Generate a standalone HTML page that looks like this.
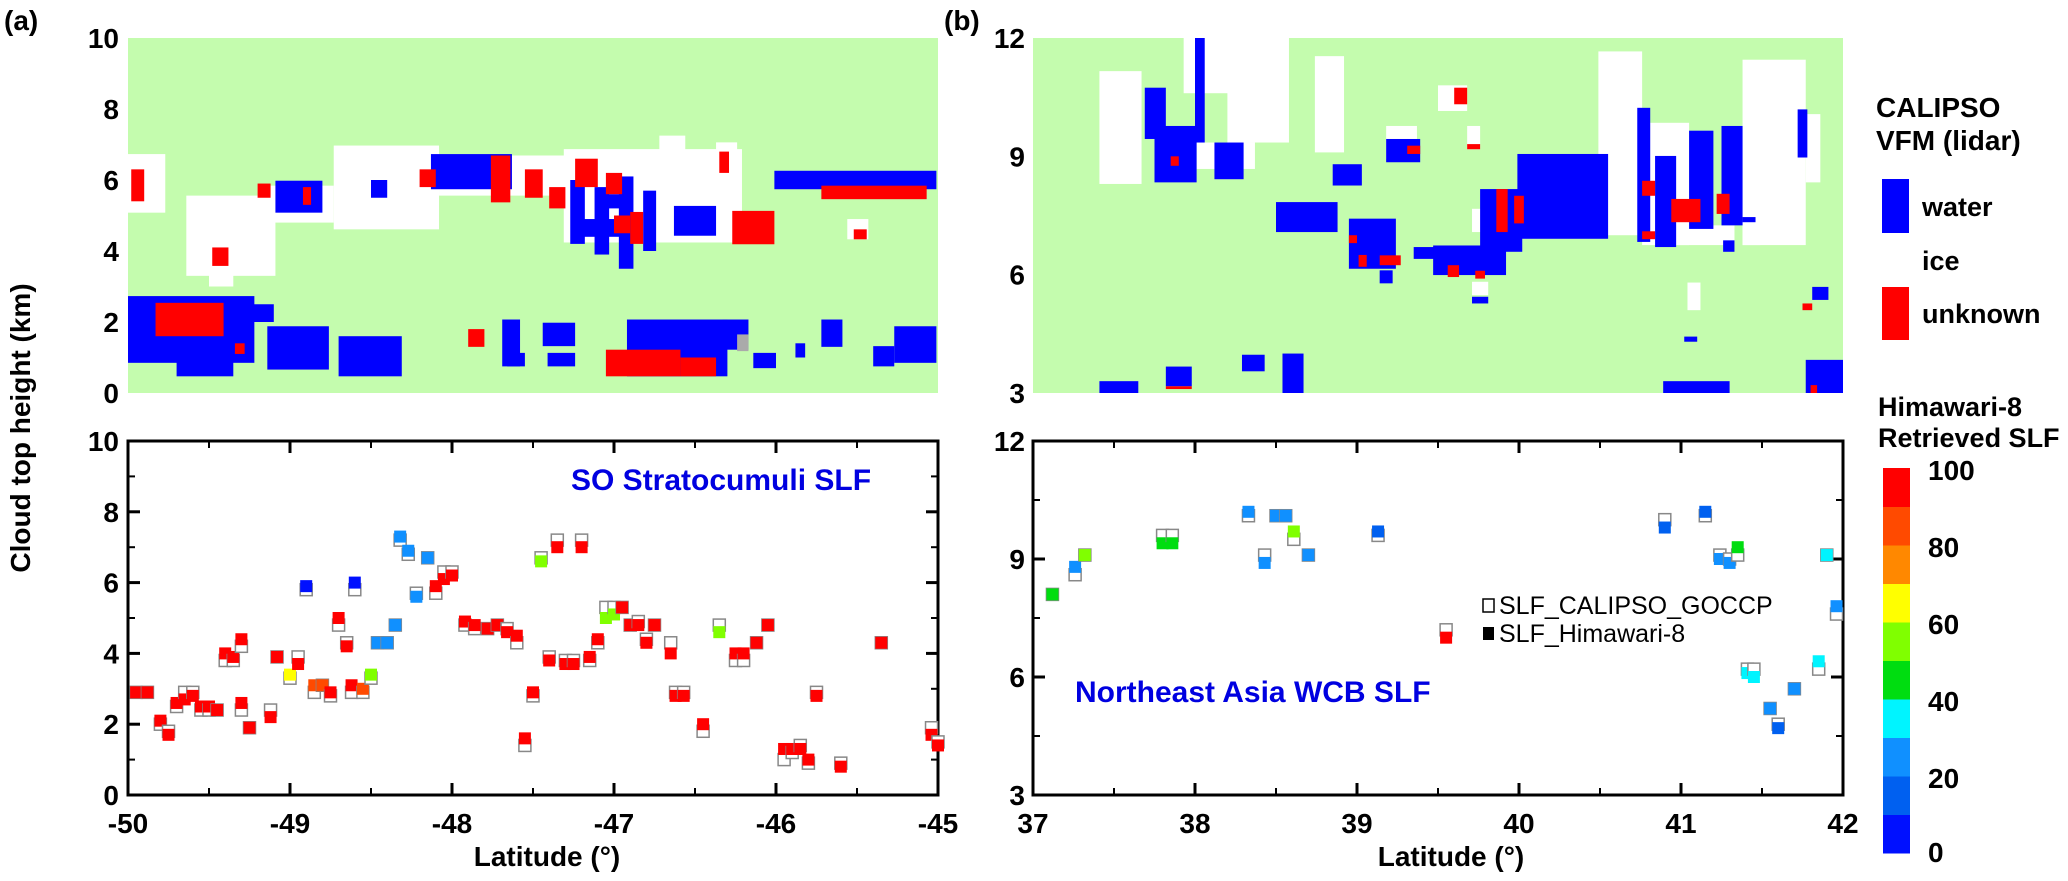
<!DOCTYPE html>
<html><head><meta charset="utf-8"><title>CALIPSO / Himawari-8 SLF</title>
<style>
html,body{margin:0;padding:0;background:#fff;}
svg{display:block;}
text{font-family:"Liberation Sans Narrow","Liberation Sans",sans-serif;font-weight:bold;fill:#000;}
</style></head>
<body>
<svg id="fig" width="2068" height="881" viewBox="0 0 2068 881" xmlns="http://www.w3.org/2000/svg">
<text x="4" y="30" font-size="28">(a)</text>
<text x="944" y="30" font-size="28">(b)</text>
<text transform="translate(30,428) rotate(-90)" text-anchor="middle" font-size="28" style="font-family:'Liberation Sans',sans-serif">Cloud top height (km)</text>
<text x="547" y="866" text-anchor="middle" font-size="28">Latitude (°)</text>
<text x="1451" y="866" text-anchor="middle" font-size="28">Latitude (°)</text>
<text x="1876" y="117" font-size="28">CALIPSO</text>
<text x="1876" y="150" font-size="28">VFM (lidar)</text>
<rect x="1882" y="179" width="27" height="54" fill="#0000ff"/>
<rect x="1882" y="233" width="27" height="54" fill="#ffffff"/>
<rect x="1882" y="287" width="27" height="53" fill="#ff0000"/>
<text x="1922" y="216" font-size="27">water</text>
<text x="1922" y="270" font-size="27">ice</text>
<text x="1922" y="323" font-size="27">unknown</text>
<text x="1878" y="416" font-size="27">Himawari-8</text>
<text x="1878" y="447" font-size="27">Retrieved SLF</text>
<g id="cbar"></g>
<g id="pa"></g>
<g id="pb"></g>
<text x="571" y="490" font-size="30" style="fill:#0000e0">SO Stratocumuli SLF</text>
<text x="1075" y="702" font-size="30" style="fill:#0000e0">Northeast Asia WCB SLF</text>
<rect x="1483" y="599" width="11" height="13" fill="#fff" stroke="#000" stroke-width="1.5"/>
<text x="1499" y="614" font-size="25" style="font-weight:normal">SLF_CALIPSO_GOCCP</text>
<rect x="1483" y="627" width="11" height="13" fill="#000"/>
<text x="1499" y="642" font-size="25" style="font-weight:normal">SLF_Himawari-8</text>
</svg>
<script>
// ---------- data ----------
const slfColors=["#0010ff","#0060f0","#1090ff","#00f4ff","#00dd10","#80ff00","#ffff00","#ff8800","#ff4a00","#ff0000"];
const slfTicks=["0","20","40","60","80","100"];
const ticksA=[-50,-49,-48,-47,-46,-45];
const ticksB=[37,38,39,40,41,42];
const yTicksA=[0,2,4,6,8,10];
const yTicksB=[3,6,9,12];
// panel a scatter: latitude, CALIPSO height, Himawari height, Himawari SLF
const latA=[-49.95,-49.88,-49.8,-49.75,-49.7,-49.65,-49.6,-49.55,-49.5,-49.45,-49.4,-49.35,-49.3,-49.3,-49.25,-49.12,-49.08,-49.0,-48.95,-48.9,-48.85,-48.8,-48.75,-48.7,-48.65,-48.62,-48.6,-48.55,-48.5,-48.46,-48.4,-48.35,-48.32,-48.27,-48.22,-48.15,-48.1,-48.05,-48.0,-47.92,-47.86,-47.78,-47.72,-47.66,-47.6,-47.55,-47.5,-47.45,-47.4,-47.35,-47.3,-47.25,-47.2,-47.15,-47.1,-47.05,-47.0,-46.95,-46.9,-46.85,-46.8,-46.75,-46.65,-46.62,-46.57,-46.45,-46.35,-46.25,-46.2,-46.12,-46.05,-45.95,-45.9,-45.85,-45.8,-45.75,-45.6,-45.35,-45.04,-45.0];
const calA=[2.9,2.9,2.0,1.8,2.5,2.9,2.9,2.4,2.4,2.4,3.8,3.8,4.2,2.4,1.9,2.4,3.9,3.3,3.9,5.8,2.9,3.1,2.8,4.8,4.3,2.9,5.8,2.9,3.3,4.3,4.3,4.8,7.2,6.8,5.7,6.7,5.7,6.3,6.3,4.8,4.7,4.7,4.8,4.7,4.3,1.4,2.8,6.7,3.9,7.2,3.8,3.8,7.2,3.8,4.3,5.3,5.3,5.3,4.8,4.9,4.4,4.8,4.3,2.9,2.9,1.8,4.8,3.8,3.8,4.3,4.8,1.0,1.2,1.4,0.9,2.9,0.9,4.3,1.9,1.5];
const himA=[2.9,2.9,2.1,1.7,2.6,2.7,2.8,2.5,2.5,2.4,4.0,3.9,4.4,2.6,1.9,2.2,3.9,3.4,3.7,5.9,3.1,3.1,2.9,5.0,4.2,3.1,6.0,3.0,3.4,4.3,4.3,4.8,7.3,6.9,5.6,6.7,5.9,6.1,6.2,4.9,4.8,4.7,4.8,4.6,4.5,1.6,2.9,6.6,3.8,7.0,3.7,3.7,7.0,3.9,4.4,5.0,5.1,5.3,4.8,4.8,4.3,4.8,4.0,2.8,2.8,2.0,4.6,4.0,4.0,4.3,4.8,1.3,1.3,1.3,1.0,2.8,0.8,4.3,1.7,1.4];
const slfA=[100,100,100,100,100,100,100,100,100,100,100,100,100,100,100,100,100,65,100,5,85,85,100,100,100,100,5,85,50,20,20,25,25,25,25,25,100,100,100,100,100,100,100,100,100,100,100,50,100,90,100,100,90,100,100,55,55,100,100,100,100,100,100,100,100,100,50,100,100,100,100,100,100,100,100,100,100,100,100,100];
// panel b scatter
const latB=[37.12,37.26,37.32,37.8,37.86,38.33,38.43,38.5,38.56,38.61,38.7,39.13,39.55,40.9,41.15,41.24,41.3,41.35,41.41,41.45,41.55,41.6,41.7,41.85,41.9,41.96];
const calB=[8.1,8.6,9.1,9.6,9.6,10.1,9.1,10.1,10.1,9.5,9.1,9.6,7.2,10.0,10.1,9.1,9.0,9.1,6.2,6.2,5.2,4.8,5.7,6.2,9.1,7.6];
const himB=[8.1,8.8,9.1,9.4,9.4,10.2,8.9,10.1,10.1,9.7,9.1,9.7,7.0,9.8,10.2,9.0,8.9,9.3,6.1,6.0,5.2,4.7,5.7,6.4,9.1,7.8];
const slfB=[45,20,55,45,45,20,20,20,20,55,20,10,90,10,10,20,20,45,35,35,20,10,20,35,35,20];
// VFM panel a: [lat0, lat1, h0, h1]
const iceA=[[-48.73,-48.08,4.61,6.97],[-49.64,-49.09,3.30,5.56],[-49.12,-48.73,4.80,5.84],[-48.08,-47.24,5.56,6.69],[-47.31,-46.21,4.24,6.87],[-46.72,-46.56,6.7,7.25],[-50,-49.77,5.08,6.73],[-45.56,-45.43,4.33,4.9],[-46.37,-46.24,6.1,7.06],[-49.5,-49.35,3.0,3.6],[-50,-49.85,1.0,2.6]];
const waterA=[[-48.13,-47.63,5.74,6.73],[-49.09,-48.80,5.08,5.98],[-47.27,-47.18,4.2,6.0],[-47.12,-47.03,3.9,5.8],[-46.97,-46.88,3.5,6.1],[-46.82,-46.74,4.0,5.7],[-47.2,-46.9,4.4,4.9],[-47.05,-46.9,5.2,5.6],[-46.01,-45.01,5.74,6.26],[-46.63,-46.37,4.43,5.27],[-48.95,-48.9,5.2,5.7],[-48.5,-48.4,5.5,6.0],
[-50,-49.22,0.85,2.73],[-49.70,-49.35,0.47,1.22],[-49.14,-48.76,0.66,1.88],[-48.70,-48.31,0.47,1.60],[-47.69,-47.58,0.75,2.07],[-47.44,-47.24,1.32,1.98],[-47.41,-47.24,0.75,1.13],[-47.66,-47.55,0.75,1.13],[-46.92,-46.30,0.47,2.07],[-46.33,-46.17,1.22,2.07],[-46.14,-46.0,0.7,1.13],[-45.88,-45.82,1.0,1.4],[-45.72,-45.59,1.3,2.07],[-45.40,-45.27,0.75,1.32],[-45.27,-45.01,0.85,1.88],[-49.28,-49.1,2.0,2.5]];
const unknownA=[[-47.05,-46.59,0.47,1.22],[-46.59,-46.37,0.47,1.0],[-46.27,-46.01,4.19,5.13],[-45.72,-45.07,5.46,5.84],[-45.52,-45.44,4.33,4.61],[-49.83,-49.41,1.60,2.54],[-47.76,-47.64,5.37,6.69],[-47.55,-47.44,5.5,6.3],[-47.24,-47.1,5.8,6.6],[-47.05,-46.95,5.6,6.2],[-46.9,-46.82,4.2,5.1],[-46.35,-46.29,6.2,6.8],[-49.98,-49.9,5.4,6.3],[-49.48,-49.38,3.58,4.1],[-49.2,-49.12,5.5,5.9],[-48.92,-48.87,5.3,5.8],[-48.2,-48.1,5.8,6.3],[-47.4,-47.3,5.2,5.8],[-47.0,-46.9,4.5,5.0],[-47.9,-47.8,1.3,1.8],[-49.34,-49.28,1.1,1.4]];
const grayA=[[-46.24,-46.17,1.18,1.65]];
// VFM panel b
const iceB=[[37.41,37.67,8.30,11.16],[37.93,38.33,10.6,12],[38.20,38.58,9.35,12],[38.74,38.92,9.1,11.54],[39.50,39.68,10.15,10.8],[40.49,40.76,7.0,11.66],[40.76,41.05,6.75,9.85],[41.38,41.77,6.75,11.45],[41.77,41.86,8.34,10.07],[41.04,41.12,5.1,5.8],[38.01,38.37,8.68,9.35],[39.18,39.37,8.93,9.77],[39.68,39.76,9.18,9.77],[39.71,39.84,7.08,7.67],[39.71,39.81,5.48,5.82],[40.94,41.33,6.75,7.25],[41.38,41.49,6.75,7.25]];
const waterB=[[37.69,37.82,9.44,10.74],[37.75,38.01,8.34,9.77],[38.0,38.06,9.35,12],[38.12,38.30,8.42,9.35],[38.85,39.03,8.26,8.8],[38.50,38.88,7.08,7.84],[38.95,39.24,6.15,7.42],[39.47,39.92,5.99,6.74],[39.18,39.39,8.85,9.44],[39.99,40.55,6.91,9.06],[39.76,40.02,6.58,8.17],[40.73,40.81,6.83,10.23],[40.84,40.97,6.7,9.01],[41.05,41.20,7.16,9.65],[41.25,41.38,7.25,9.77],[41.72,41.78,8.97,10.19],[41.81,41.91,5.36,5.69],[41.02,41.10,4.30,4.43],[37.82,37.98,3.17,3.67],[38.29,38.43,3.55,3.97],[38.54,38.67,3.0,4.0],[37.41,37.65,3.0,3.3],[40.89,41.30,3.0,3.3],[41.77,42.0,3.0,3.84],[41.26,41.33,6.58,6.87],[41.38,41.46,7.33,7.46],[39.14,39.22,5.78,6.11],[39.71,39.81,5.27,5.44],[39.35,39.56,6.4,6.7]];
const unknownB=[[39.60,39.68,10.32,10.74],[39.68,39.76,9.18,9.31],[39.31,39.39,9.06,9.27],[37.85,37.90,8.76,9.0],[39.14,39.27,6.24,6.49],[39.56,39.63,5.94,6.24],[39.73,39.79,5.9,6.1],[39.86,39.93,7.08,8.17],[39.97,40.03,7.3,8.0],[40.76,40.84,8.0,8.38],[40.94,41.12,7.33,7.92],[41.22,41.30,7.54,8.05],[41.75,41.81,5.1,5.27],[40.76,40.84,6.9,7.1],[38.95,39.0,6.8,7.0],[39.01,39.06,6.2,6.5],[37.82,37.98,3.1,3.17],[41.8,41.84,3.0,3.2]];

// ---------- helpers ----------
const NS="http://www.w3.org/2000/svg";
function mk(tag,attrs,parent){const e=document.createElementNS(NS,tag);for(const k in attrs)e.setAttribute(k,attrs[k]);parent.appendChild(e);return e;}
const gA=document.getElementById('pa'), gB=document.getElementById('pb');
const L0=128,L1=938,R0=1033,R1=1843,TT=38,TB=393,BT=441,BB=795;
function xA(v){return L0+(v+50)/5*(L1-L0);}
function xB(v){return R0+(v-37)/5*(R1-R0);}
function yAtop(h){return TB-h/10*(TB-TT);}
function yBtop(h){return TB-(h-3)/9*(TB-TT);}
function yAbot(h){return BB-h/10*(BB-BT);}
function yBbot(h){return BB-(h-3)/9*(BB-BT);}
function slfColor(s){return slfColors[Math.min(9,Math.floor(s/10))];}

function vfm(g,x0,x1,fx,fy,sets,name){
  const bg=mk('rect',{x:x0,y:TT,width:x1-x0,height:TB-TT,fill:'#c4fcae'},g);
  
  
  sets.forEach(([arr,col,nm])=>{
    arr.forEach(r=>{
      const e=mk('rect',{x:fx(r[0]),y:fy(r[3]),width:fx(r[1])-fx(r[0]),height:fy(r[2])-fy(r[3]),fill:col},g);
      
      
    });
  });
}
vfm(gA,L0,L1,xA,yAtop,[[iceA,'#fff','ice-cell'],[waterA,'#0000ff','water-cell'],[unknownA,'#ff0000','unknown-cell'],[grayA,'#aaa','gray-cell']],'vfm-a');
vfm(gB,R0,R1,xB,yBtop,[[iceB,'#fff','ice-cell'],[waterB,'#0000ff','water-cell'],[unknownB,'#ff0000','unknown-cell']],'vfm-b');

function ylabels(g,ticks,fy,xr,nm){
  ticks.forEach(t=>{
    const e=mk('text',{x:xr,y:fy(t)+10,'text-anchor':'end','font-size':28},g);
    e.textContent=t;
    
    
  });
}
ylabels(gA,yTicksA,yAtop,119,'y-tick-label-top-a');
ylabels(gB,yTicksB,yBtop,1025,'y-tick-label-top-b');
ylabels(gA,yTicksA,yAbot,119,'y-tick-label-bottom-a');
ylabels(gB,yTicksB,yBbot,1025,'y-tick-label-bottom-b');

function frame(g,x0,x1,xt,fx,yt,fy,nm){
  const f=mk('rect',{x:x0,y:BT,width:x1-x0,height:BB-BT,fill:'none',stroke:'#000','stroke-width':3},g);
  
  
  for(let i=0;i<xt.length;i++){
    const X=fx(xt[i]);
    mk('line',{x1:X,y1:BB,x2:X,y2:BB-12,stroke:'#000','stroke-width':3},g);
    mk('line',{x1:X,y1:BT,x2:X,y2:BT+12,stroke:'#000','stroke-width':3},g);
    const t=mk('text',{x:X,y:BB+38,'text-anchor':'middle','font-size':28},g);
    t.textContent=xt[i];
    
    
    if(i<xt.length-1){const m=fx((xt[i]+xt[i+1])/2);
      mk('line',{x1:m,y1:BB,x2:m,y2:BB-7,stroke:'#000','stroke-width':2},g);
      mk('line',{x1:m,y1:BT,x2:m,y2:BT+7,stroke:'#000','stroke-width':2},g);}
  }
  for(let i=0;i<yt.length;i++){
    const Y=fy(yt[i]);
    mk('line',{x1:x0,y1:Y,x2:x0+12,y2:Y,stroke:'#000','stroke-width':3},g);
    mk('line',{x1:x1,y1:Y,x2:x1-12,y2:Y,stroke:'#000','stroke-width':3},g);
    if(i<yt.length-1){const m=fy((yt[i]+yt[i+1])/2);
      mk('line',{x1:x0,y1:m,x2:x0+7,y2:m,stroke:'#000','stroke-width':2},g);
      mk('line',{x1:x1,y1:m,x2:x1-7,y2:m,stroke:'#000','stroke-width':2},g);}
  }
}
frame(gA,L0,L1,ticksA,xA,yTicksA,yAbot,'scatter-a');
frame(gB,R0,R1,ticksB,xB,yTicksB,yBbot,'scatter-b');

function scatter(g,lat,cal,him,slf,fx,fy){
  for(let i=0;i<lat.length;i++){
    const X=fx(lat[i])-6;
    const c=mk('rect',{x:X,y:fy(cal[i])-6,width:12,height:12,fill:'#fff',stroke:'#888','stroke-width':1.5},g);
    
    
    const h=mk('rect',{x:X,y:fy(him[i])-6,width:12,height:12,fill:slfColor(slf[i])},g);
    
    
  }
}
scatter(gA,latA,calA,himA,slfA,xA,yAbot);
scatter(gB,latB,calB,himB,slfB,xB,yBbot);

// colorbar
const cb=document.getElementById('cbar');
const cTop=468,cBot=853,cx=1883,cw=27;
slfColors.forEach((col,i)=>{
  const bh=(cBot-cTop)/slfColors.length;
  const e=mk('rect',{x:cx,y:cBot-(i+1)*bh,width:cw,height:bh+0.5,fill:col},cb);
  
  
});
slfTicks.forEach((t,i)=>{
  const y=cBot-i/(slfTicks.length-1)*(cBot-cTop);
  const e=mk('text',{x:1928,y:Math.min(y+12,862),'font-size':28},cb);
  e.textContent=t;
  
  
});
</script>
</body></html>
